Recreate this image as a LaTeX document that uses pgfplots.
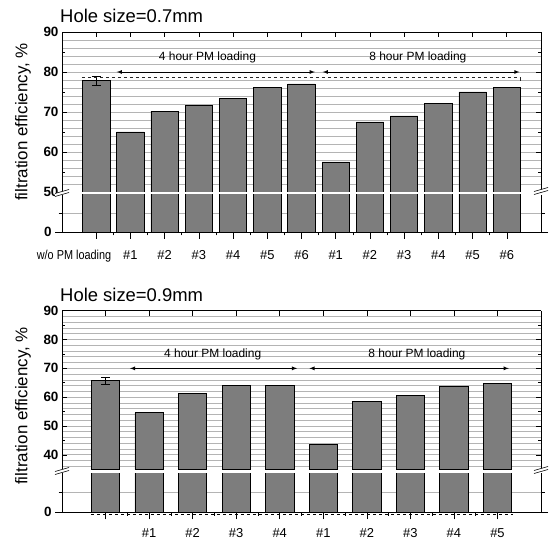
\documentclass[border=0pt]{standalone}
\usepackage{fontspec}
\setmainfont{Liberation Sans}
\usepackage{pgfplots}
\pgfplotsset{compat=1.18}

\definecolor{barfill}{HTML}{7D7D7D}
\definecolor{gridgray}{HTML}{B4B4B4}

% efficiency values (upper panel: 0.7 mm hole, lower panel: 0.9 mm hole)
\pgfplotstableread{
x  eff
0  77.8
1  65.0
2  70.2
3  71.7
4  73.3
5  76.1
6  77.0
7  57.5
8  67.5
9  69.0
10 72.1
11 75.0
12 76.1
}\holeA
\pgfplotstableread{
x  eff
0  65.7
1  54.6
2  61.4
3  64.0
4  64.0
5  43.6
6  58.5
7  60.5
8  63.7
9  64.9
}\holeB

\tikzset{note/.style={font=\fontsize{12}{12}\selectfont, inner sep=0pt}}

\pgfplotsset{
  common/.style={
    scale only axis, width=479bp, anchor=south west,
    axis line style={line width=0.8bp},
    every tick/.style={black, line width=0.6bp},
    minor x tick num=1,
    /pgf/number format/assume math mode=true,
    yticklabel style={font=\fontsize{13.5}{13.5}\selectfont\bfseries},
    minor grid style={gridgray, line width=0.8bp},
    clip mode=individual,
  },
  upper/.style={common,
    axis x line*=top, xticklabels={},
    tick align=inside, major tick length=5bp, minor tick length=3bp,
    yminorgrids=true,
    extra y tick style={major tick length=3bp, grid=none},
  },
  lower/.style={common,
    axis x line*=bottom, tick align=outside,
    major tick length=7bp, minor tick length=3.5bp,
    ymin=0, ymax=10, ytick={0}, minor ytick={5}, yminorgrids=true,
    extra y ticks={5}, extra y tick labels={}, extra y tick style={grid=none, major tick length=3bp},
    xticklabel style={font=\fontsize{13}{13}\selectfont, anchor=north},
  },
  bars/.style={ybar, fill=barfill, draw=black, line width=0.7bp},
  errb/.style={draw=none, mark=none, forget plot,
    error bars/.cd, y dir=both, y explicit,
    error bar style={black, line width=0.7bp},
    error mark options={rotate=90, mark size=4.5bp, black, line width=0.7bp}},
}

\begin{document}
\begin{tikzpicture}[x=1bp, y=1bp]
\path (0,0) rectangle (549,543);

% ---------- Hole size 0.7 mm ----------
\begin{axis}[upper, at={(62bp,351bp)}, height=160bp,
  xmin=-1, xmax=13, xtick={0,...,12},
  ymin=50, ymax=90, ytick={50,60,...,90},
  minor ytick={52,54,...,88}, minor tick length=0bp,
  extra y ticks={55,65,75,85}, extra y tick labels={}]
  \addplot[bars, bar width=0.8] table[x=x, y=eff] {\holeA};
  \addplot[errb] coordinates {(0,77.8) +- (0,1.2)};
  \draw[gray!30!black, line width=0.7bp, dash pattern=on 3.5bp off 2.5bp]
    (axis cs:-0.42,78.6) -- (axis cs:12.4,78.6);
  \draw[gray!30!black, line width=0.7bp] (axis cs:12.4,78.6) -- ([yshift=-3.5bp]axis cs:12.4,78.6);
  \draw[<->, >=latex, line width=0.8bp] (axis cs:0.6,80) -- (axis cs:6.39,80);
  \draw[<->, >=latex, line width=0.8bp] (axis cs:6.62,80) -- (axis cs:12.37,80);
  \node[note] at (axis cs:3.25,83.6) {4 hour PM loading};
  \node[note] at (axis cs:9.4,83.6) {8 hour PM loading};
\end{axis}
\begin{axis}[lower, at={(62bp,311bp)}, height=37bp,
  xmin=-1, xmax=13, xtick={0,...,12},
  xticklabels={{\makebox[0pt][r]{\scalebox{0.84}[1]{w/o PM loading}\hspace{-15bp}}},\#1,\#2,\#3,\#4,\#5,\#6,\#1,\#2,\#3,\#4,\#5,\#6},
  xticklabel style={yshift=-8bp}]
  \addplot[bars, bar width=0.8] table[x=x, y=eff] {\holeA};
\end{axis}

% ---------- Hole size 0.9 mm ----------
\begin{axis}[upper, at={(62bp,73.7bp)}, height=158.6bp,
  xmin=-1, xmax=10, xtick={0,...,9},
  ymin=35, ymax=90, ytick={40,50,...,90},
  minor ytick={36,38,...,88}, minor tick length=0bp,
  extra y ticks={45,55,65,75,85}, extra y tick labels={}]
  \addplot[bars, bar width=0.65] table[x=x, y=eff] {\holeB};
  \addplot[errb] coordinates {(0,65.75) +- (0,1.15)};
  \draw[<->, >=latex, line width=0.8bp] (axis cs:0.56,70) -- (axis cs:4.4,70);
  \draw[<->, >=latex, line width=0.8bp] (axis cs:4.68,70) -- (axis cs:9.26,70);
  \node[note] at (axis cs:2.46,75) {4 hour PM loading};
  \node[note] at (axis cs:7.15,75) {8 hour PM loading};
\end{axis}
\begin{axis}[lower, at={(62bp,30.7bp)}, height=39bp,
  xmin=-1, xmax=10, xtick={0,...,9},
  xticklabels={{},\#1,\#2,\#3,\#4,\#1,\#2,\#3,\#4,\#5},
  xticklabel style={yshift=-6bp}]
  \addplot[bars, bar width=0.65] table[x=x, y=eff] {\holeB};
  \draw[black, line width=0.6bp, dash pattern=on 3bp off 3bp]
    ([yshift=-2.5bp]axis cs:-0.33,0) -- ([yshift=-2.5bp]axis cs:9.35,0);
\end{axis}

% axis break marks
\foreach \bx/\by in {62/349.5, 541/351.5, 62/71.5, 541/72.5} {
  \fill[white] (\bx-7,\by-3) -- (\bx+7,\by+1) -- (\bx+7,\by+4) -- (\bx-7,\by) -- cycle;
  \draw[line width=0.6bp] (\bx-7,\by-3) -- (\bx+7,\by+1);
  \draw[line width=0.6bp] (\bx-7,\by) -- (\bx+7,\by+4);
}

% titles and axis labels
\node[anchor=base west, inner sep=0pt, font=\fontsize{18.5}{18.5}\selectfont] at (60,520) {Hole size=0.7mm};
\node[anchor=base west, inner sep=0pt, font=\fontsize{18.5}{18.5}\selectfont] at (60,241.5) {Hole size=0.9mm};
\node[rotate=90, inner sep=0pt, font=\fontsize{17}{17}\selectfont] at (23,421) {filtration efficiency, \%};
\node[rotate=90, inner sep=0pt, font=\fontsize{17}{17}\selectfont] at (23,137) {filtration efficiency, \%};
\end{tikzpicture}
\end{document}
